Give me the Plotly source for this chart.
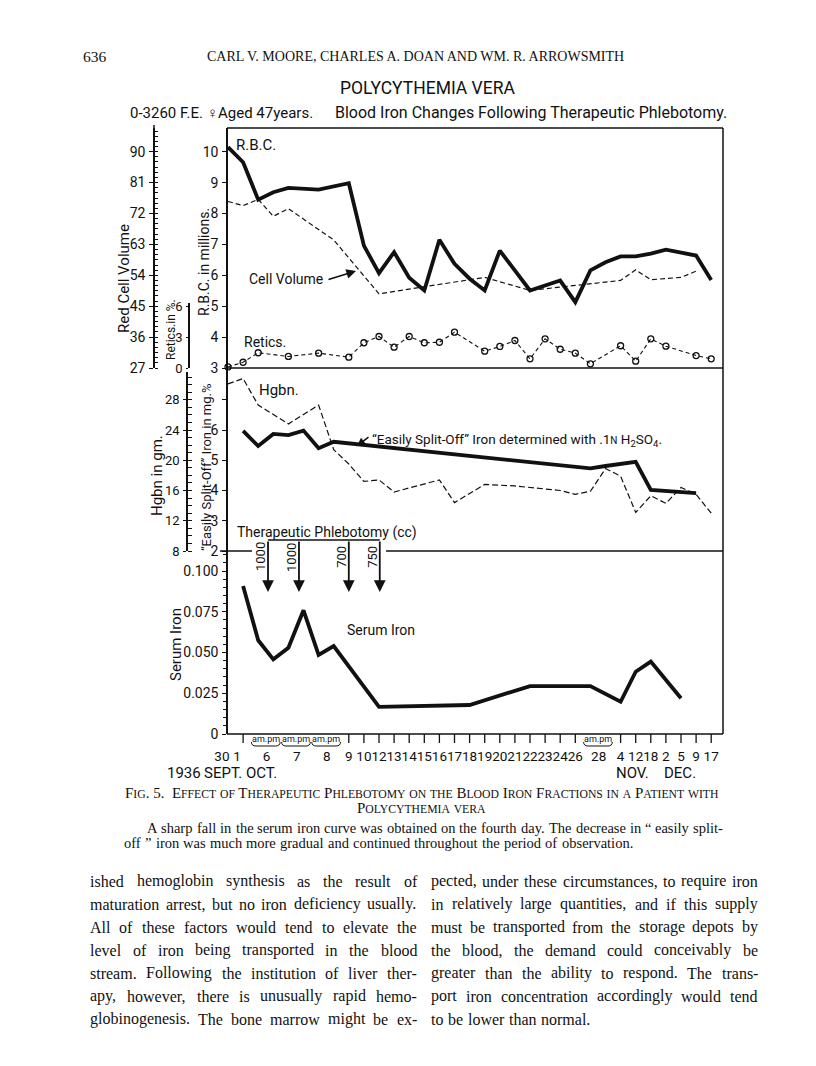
import plotly.graph_objects as go

# page is offset by the browser's default 8px body margin, so the figure covers 8..808 x 8..1058
OFF = 8
W, H = 800, 1050
def px(x): return (x - OFF) / W
def py(y): return 1 - (y - OFF) / H

HAND = "Roboto, Liberation Sans, sans-serif"
SERIF = "Liberation Serif, DejaVu Serif, serif"
INK = "#111111"

# ---------------- data ----------------
slot_labels = ["30", "1", "6am", "6pm", "7am", "7pm", "8am", "8pm", "9", "10", "12", "13", "14", "15",
               "16", "17", "18", "19", "20", "21", "22", "23", "24", "26", "28am", "28pm",
               "4", "12", "18", "2", "5", "9", "17"]

rbc_slots = [0, 1, 2, 3, 4, 6, 8, 9, 10, 11, 12, 13, 14, 15, 16, 17, 18, 20, 22, 23, 24, 25, 26, 27, 28, 29, 31, 32]
rbc_vals = [10.15, 9.66, 8.45, 8.69, 8.83, 8.77, 8.98, 6.96, 6.07, 6.75, 5.92, 5.51, 7.15, 6.37, 5.89, 5.51,
            6.80, 5.51, 5.83, 5.13, 6.16, 6.42, 6.61, 6.61, 6.70, 6.83, 6.64, 5.85]

cv_slots = [0, 1, 2, 3, 4, 6, 7, 10, 17, 20, 22, 26, 27, 28, 30, 31]
cv_vals = [75.5, 74.3, 76.1, 71.2, 73.4, 67.5, 64.3, 48.6, 53.4, 49.6, 50.5, 52.5, 55.6, 52.7, 53.4, 55.2]

ret_slots = [0, 1, 2, 4, 6, 8, 9, 10, 11, 12, 13, 14, 15, 17, 18, 19, 20, 21, 22, 23, 24, 26, 27, 28, 29, 31, 32]
ret_vals = [0.1, 0.56, 1.48, 1.12, 1.44, 1.05, 2.45, 3.06, 2.02, 3.06, 2.45, 2.5, 3.48, 1.63, 2.09, 2.67,
            0.89, 2.83, 1.82, 1.44, 0.41, 2.16, 0.66, 2.83, 2.12, 1.21, 0.89]

es_slots = [1, 2, 3, 4, 5, 6, 7, 24, 25, 27, 28, 31]
es_vals = [5.97, 5.47, 5.87, 5.83, 5.98, 5.40, 5.61, 4.73, 4.81, 4.95, 4.02, 3.91]

hg_slots = [0, 1, 2, 4, 6, 7, 8, 9, 10, 11, 14, 15, 17, 19, 22, 23, 24, 25, 26, 27, 28, 29, 30, 31, 32]
hg_vals = [30.1, 30.8, 27.3, 24.8, 27.3, 21.4, 19.5, 17.2, 17.4, 15.8, 17.4, 14.4, 16.8, 16.6, 16.0, 15.5,
           15.9, 18.9, 17.9, 13.1, 15.3, 14.3, 16.4, 15.5, 13.0]

se_slots = [1, 2, 3, 4, 5, 6, 7, 10, 16, 20, 24, 26, 27, 28, 30]
se_vals = [0.0908, 0.0575, 0.0458, 0.0529, 0.0759, 0.0485, 0.054, 0.0167, 0.0178, 0.0294, 0.0294,
           0.0198, 0.0382, 0.0444, 0.0219]

phleb_slots = [2.65, 4.7, 8.0, 10.05]
phleb_cc = ["1000", "1000", "700", "750"]

ampm_pairs = [2, 4, 6, 24]
tick_slots = [1] + list(range(8, 24)) + list(range(26, 33))

label_pos, label_txt = [-0.4, 0.6], [slot_labels[0], slot_labels[1]]
for a in ampm_pairs:
    label_pos.append(a + 0.55)
    label_txt.append(slot_labels[a][:-2])
for s in tick_slots[1:]:
    label_pos.append(s)
    label_txt.append(slot_labels[s])

# ---------------- figure ----------------
fig = go.Figure()

thick = dict(color=INK, width=3.8)
thin_dash = dict(color=INK, width=1.2, dash="5px,3px")

fig.add_trace(go.Scatter(x=rbc_slots, y=rbc_vals, mode="lines", line=thick, xaxis="x", yaxis="y",
                         cliponaxis=False, showlegend=False))
fig.add_trace(go.Scatter(x=cv_slots, y=cv_vals, mode="lines", line=thin_dash, xaxis="x", yaxis="y2",
                         cliponaxis=False, showlegend=False))
fig.add_trace(go.Scatter(x=ret_slots, y=ret_vals, mode="lines+markers",
                         line=dict(color=INK, width=1.1, dash="4px,3px"),
                         marker=dict(symbol="circle-open", size=6, color=INK, line=dict(width=1.3)),
                         xaxis="x", yaxis="y3", cliponaxis=False, showlegend=False))
fig.add_trace(go.Scatter(x=es_slots, y=es_vals, mode="lines", line=thick, xaxis="x", yaxis="y4",
                         cliponaxis=False, showlegend=False))
fig.add_trace(go.Scatter(x=hg_slots, y=hg_vals, mode="lines", line=dict(color=INK, width=1.2, dash="6px,3px"),
                         xaxis="x", yaxis="y5", cliponaxis=False, showlegend=False))
fig.add_trace(go.Scatter(x=se_slots, y=se_vals, mode="lines", line=thick, xaxis="x", yaxis="y6",
                         cliponaxis=False, showlegend=False))

# slot k sits at page x = 228 + 15.1 k
X_LEFT, X_RIGHT = 212, 723
x_range = [(X_LEFT - 228) / 15.1, (X_RIGHT - 228) / 15.1]

def yax(size=14, ticklen=4, **kw):
    d = dict(showgrid=False, zeroline=False, showline=True, linecolor=INK, linewidth=1.5,
             ticks="outside", tickcolor=INK, tickwidth=1.3, ticklen=ticklen,
             tickfont=dict(family=HAND, size=size, color=INK), automargin=False, ticklabelstandoff=1)
    d.update(kw)
    return d

fig.update_layout(
    width=W, height=H, margin=dict(l=0, r=0, t=0, b=0, autoexpand=False),
    paper_bgcolor="white", plot_bgcolor="rgba(0,0,0,0)", showlegend=False,
    xaxis=dict(domain=[px(X_LEFT), px(X_RIGHT)], range=x_range, anchor="y6", showgrid=False, zeroline=False,
               showline=False, ticks="", tickmode="array", tickvals=label_pos, ticktext=label_txt,
               tickangle=0, automargin=False, tickfont=dict(family=HAND, size=13.5, color=INK),
               ticklabelstandoff=12),
    yaxis=yax(14, domain=[py(368), py(128)], range=[3, 10.767], anchor="free", position=px(227),
              tickmode="array", tickvals=list(range(3, 11))),
    yaxis2=yax(14, overlaying="y", anchor="free", position=px(154), range=[27, 96.9], tickmode="array",
               tickvals=[27, 36, 45, 54, 63, 72, 81, 90],
               minor=dict(dtick=1.5, ticks="inside", ticklen=3, tickcolor=INK, tickwidth=1)),
    yaxis3=yax(13, ticklen=2, domain=[py(368), py(302.6)], anchor="free", position=px(189), range=[0, 6.35],
               tickmode="array", tickvals=[0, 3, 6]),
    yaxis4=yax(14, domain=[py(551), py(368)], range=[2, 8.05], anchor="free", position=px(227),
               tickmode="array", tickvals=[2, 3, 4, 5, 6, 7], ticktext=["2", "3", "4", "5", "6", ""]),
    yaxis5=yax(13, ticklen=3, domain=[py(551), py(372)], anchor="free", position=px(187), range=[8, 31.67],
               tickmode="array", tickvals=[8, 12, 16, 20, 24, 28],
               minor=dict(dtick=1, ticks="inside", ticklen=4, tickcolor=INK, tickwidth=1)),
    yaxis6=yax(14, domain=[py(734), py(551)], range=[0, 0.1123], anchor="free", position=px(227),
               tickmode="array", tickvals=[0, 0.025, 0.05, 0.075, 0.1],
               ticktext=["0", "0.025", "0.050", "0.075", "0.100"],
               minor=dict(dtick=0.005, ticks="outside", ticklen=3, tickcolor=INK, tickwidth=1)),
)

shapes = []
def pline(x0, y0, x1, y1, w=1.5):
    shapes.append(dict(type="line", xref="paper", yref="paper", x0=px(x0), y0=py(y0), x1=px(x1), y1=py(y1),
                       line=dict(color=INK, width=w)))

pline(227, 128, 723, 128)
pline(723, 128, 723, 734)
pline(227, 734, 723, 734)
pline(227, 368, 723, 368)
pline(220, 551, 252, 551)
pline(386, 551, 723, 551)
pline(154, 125, 154, 128)

for s in tick_slots:
    shapes.append(dict(type="line", xref="x", yref="paper", x0=s, x1=s, y0=py(734), y1=py(743),
                       line=dict(color=INK, width=1.3)))

shapes.append(dict(type="line", xref="x", yref="paper", x0=phleb_slots[0], x1=phleb_slots[-1],
                   y0=py(540), y1=py(540), line=dict(color=INK, width=1.6)))

for a in ampm_pairs:
    x0, x1 = a - 0.45, a + 1.45
    yt, yb = py(742), py(746)
    shapes.append(dict(type="path", xref="x", yref="paper",
                       path=f"M {x0},{yt} Q {x0},{yb} {x0+0.3},{yb} L {x1-0.3},{yb} Q {x1},{yb} {x1},{yt}",
                       line=dict(color=INK, width=1)))

fig.update_layout(shapes=shapes)

anns = []
def ann(text, x, y, size=16, xa="left", ya="middle", family=HAND, angle=0, color=INK):
    anns.append(dict(text=text, x=px(x), y=py(y), xref="paper", yref="paper", xanchor=xa, yanchor=ya,
                     showarrow=False, textangle=angle, font=dict(family=family, size=size, color=color)))

TW = {' ': 250, '!': 333, '"': 408, "'": 333, '(': 333, ')': 333, ',': 250, '-': 333, '.': 250, ':': 278,
      ';': 278, '?': 444, '“': 444, '”': 444, '’': 333}
TW.update({d: 500 for d in "0123456789"})
TW.update(dict(zip("ABCDEFGHIJKLMNOPQRSTUVWXYZ",
                   [722, 667, 667, 722, 611, 556, 722, 722, 333, 389, 722, 611, 889, 722, 722, 556, 722, 667,
                    556, 611, 722, 722, 944, 722, 722, 611])))
TW.update(dict(zip("abcdefghijklmnopqrstuvwxyz",
                   [444, 500, 444, 500, 444, 333, 500, 500, 278, 278, 500, 278, 778, 500, 500, 500, 500, 333,
                    389, 278, 500, 500, 722, 500, 500, 444])))

def tw(s, size):
    return sum(TW.get(c, 500) for c in s) / 1000 * size

def justify(line, x0, x1, y, size, last=False):
    words = line.split()
    widths = [tw(w, size) for w in words]
    if last or len(words) == 1:
        gap = tw(" ", size) * 1.15
    else:
        gap = (x1 - x0 - sum(widths)) / (len(words) - 1)
    x = x0
    for w, wd in zip(words, widths):
        ann(w, x, y, size, family=SERIF)
        x += wd + gap

for s, lab in zip(phleb_slots, phleb_cc):
    anns.append(dict(text="", x=s, y=py(592), xref="x", yref="paper", ax=0, ay=-52, axref="pixel",
                     ayref="pixel", showarrow=True, arrowhead=2, arrowsize=1.3, arrowwidth=1.8,
                     arrowcolor=INK))
    anns.append(dict(text=lab, x=s, y=py(557), xref="x", yref="paper", xshift=-8, xanchor="center",
                     yanchor="middle", showarrow=False, textangle=-90,
                     font=dict(family=HAND, size=13, color=INK)))

for a in ampm_pairs:
    anns.append(dict(text="am.pm", x=a + 0.5, y=py(738.5), xref="x", yref="paper", xanchor="center",
                     yanchor="middle", showarrow=False, font=dict(family=HAND, size=9, color=INK)))

# header
ann("636", 81, 57, 15.5, family=SERIF)
ann("CARL V. MOORE, CHARLES A. DOAN AND WM. R. ARROWSMITH", 415, 57, 14, xa="center", family=SERIF)
ann("POLYCYTHEMIA VERA", 427, 88, 17.5, xa="center")
ann("0-3260 F.E. ♀Aged 47years.", 128, 113, 15)
ann("Blood Iron Changes Following Therapeutic Phlebotomy.", 333, 113, 16)

# in-plot labels
ann("R.B.C.", 234, 145, 15)
ann("Cell Volume", 247, 279, 14)
anns.append(dict(text="", x=px(356), y=py(271), xref="paper", yref="paper", ax=-29, ay=9, showarrow=True,
                 arrowhead=2, arrowsize=1.2, arrowwidth=1.6, arrowcolor=INK))
ann("Retics.", 242, 342, 14)
ann("Hgbn.", 257, 390, 15)
ann("“Easily Split-Off” Iron determined with .1<span style='font-size:10px'>N</span> H<sub>2</sub>SO<sub>4</sub>.",
    370, 440, 13.5)
anns.append(dict(text="", x=px(357), y=py(446), xref="paper", yref="paper", ax=13, ay=-10, showarrow=True,
                 arrowhead=2, arrowsize=1.1, arrowwidth=1.5, arrowcolor=INK))
ann("Therapeutic Phlebotomy (cc)", 235, 532, 14)
ann("Serum Iron", 345, 630, 14)

# axis titles
ann("Red Cell Volume", 124, 278, 15, xa="center", angle=-90)
ann("Retics.in %.", 171, 330, 12, xa="center", angle=-90)
ann("R.B.C. in millions.", 204, 262, 14, xa="center", angle=-90)
ann("Hgbn in gm.", 157, 476, 15, xa="center", angle=-90)
ann("“Easily Split-Off” Iron in mg.%", 206, 468, 13, xa="center", angle=-90)
ann("Serum Iron", 176, 645, 15, xa="center", angle=-90)

# x-axis extra labels
ann("1936", 165, 773, 15)
ann("SEPT. OCT.", 202, 773, 15)
ann("NOV.", 632, 773, 15, xa="center")
ann("DEC.", 680, 773, 15, xa="center")

def smallcaps(s, small=9.5):
    out, buf = [], ""
    for ch in s:
        if ch.islower():
            buf += ch.upper()
        else:
            if buf:
                out.append(f"<span style='font-size:{small}px'>{buf}</span>")
                buf = ""
            out.append(ch)
    if buf:
        out.append(f"<span style='font-size:{small}px'>{buf}</span>")
    return "".join(out)

ann(smallcaps("Fig. 5.  Effect of Therapeutic Phlebotomy on the Blood Iron Fractions in a Patient with", 11.7),
    421.5, 793, 15, xa="center", family=SERIF)
ann(smallcaps("Polycythemia vera", 11.7), 421.5, 808, 15, xa="center", family=SERIF)
justify("A sharp fall in the serum iron curve was obtained on the fourth day.  The decrease in “ easily split-",
        145, 721, 828, 14.5)
justify("off ” iron was much more gradual and continued throughout the period of observation.",
        122, 721, 843, 14.5, last=True)

left_col = ["ished hemoglobin synthesis as the result of",
            "maturation arrest, but no iron deficiency usually.",
            "All of these factors would tend to elevate the",
            "level of iron being transported in the blood",
            "stream.  Following the institution of liver ther-",
            "apy, however, there is unusually rapid hemo-",
            "globinogenesis.  The bone marrow might be ex-"]
right_col = ["pected, under these circumstances, to require iron",
             "in relatively large quantities, and if this supply",
             "must be transported from the storage depots by",
             "the blood, the demand could conceivably be",
             "greater than the ability to respond.  The trans-",
             "port iron concentration accordingly would tend",
             "to be lower than normal."]
for i, t in enumerate(left_col):
    justify(t, 88, 415, 881 + 23 * i, 16)
for i, t in enumerate(right_col):
    justify(t, 429, 756, 881 + 23 * i, 16, last=(i == len(right_col) - 1))

fig.update_layout(annotations=anns)
fig.write_html("out.html")
